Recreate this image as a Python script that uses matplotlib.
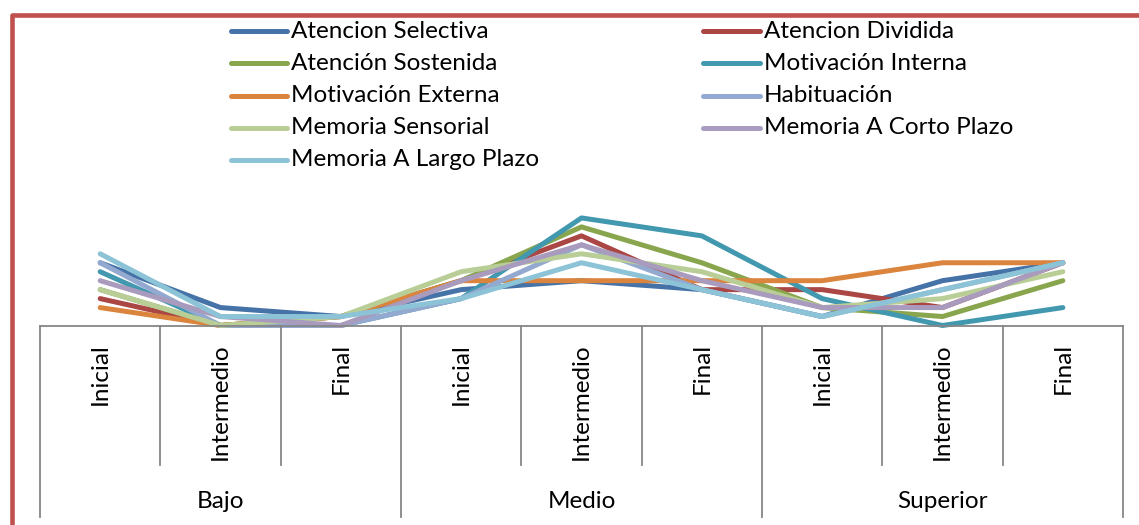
import matplotlib
matplotlib.use("Agg")
import matplotlib.pyplot as plt
from matplotlib.lines import Line2D
from matplotlib.patches import Rectangle

W, H = 1139, 525
plt.rcParams['font.family'] = ['Lato', 'DejaVu Sans']

# ---- data ----
stages = ["Inicial", "Intermedio", "Final"] * 3
groups = ["Bajo", "Medio", "Superior"]
series_names = ["Atencion Selectiva", "Atencion Dividida", "Atención Sostenida",
                "Motivación Interna", "Motivación Externa", "Habituación",
                "Memoria Sensorial", "Memoria A Corto Plazo", "Memoria A Largo Plazo"]
atencion_selectiva = [7, 2, 1, 4, 5, 4, 1, 5, 7]
atencion_dividida = [3, 0, 1, 5, 10, 4, 4, 2, 7]
atencion_sostenida = [4, 0, 1, 5, 11, 7, 2, 1, 5]
motivacion_interna = [6, 0, 0, 3, 12, 10, 3, 0, 2]
motivacion_externa = [2, 0, 1, 5, 5, 5, 5, 7, 7]
habituacion = [7, 0, 0, 3, 9, 4, 1, 4, 7]
memoria_sensorial = [4, 0, 1, 6, 8, 6, 2, 3, 6]
memoria_corto = [5, 1, 0, 5, 9, 5, 2, 2, 7]
memoria_largo = [8, 1, 1, 3, 7, 4, 1, 4, 7]
series_values = [atencion_selectiva, atencion_dividida, atencion_sostenida,
                 motivacion_interna, motivacion_externa, habituacion,
                 memoria_sensorial, memoria_corto, memoria_largo]
colors = ["#4572A7", "#AA4643", "#89A54E", "#4198AF", "#DB843D",
          "#93A9CF", "#B9CD96", "#A99BBD", "#8DC3D6"]

FS = 17.5
LW = 3.6

fig = plt.figure(figsize=(W / 100, H / 100), dpi=100)

def fx(x):
    return x / W

def fy(y):
    return 1 - y / H

# red outer frame
frame = Rectangle((fx(11.5), fy(560)), fx(1200), 1 - fy(560) - (1 - fy(15)),
                  transform=fig.transFigure, fill=False, edgecolor="#C0504D",
                  linewidth=3.3, joinstyle="round")
fig.add_artist(frame)

ax_bottom_px, ax_top_px = 325.5, 200
ax = fig.add_axes([fx(40), fy(ax_bottom_px), fx(1123) - fx(40),
                   (ax_bottom_px - ax_top_px) / H])
x = list(range(len(stages)))
for vals, c, name in zip(series_values, colors, series_names):
    ax.plot(x, vals, color=c, linewidth=LW, solid_capstyle="round",
            solid_joinstyle="round", clip_on=False, label=name)
ax.set_xlim(-0.5, len(stages) - 0.5)
ax.set_ylim(0, 14)
for s in ["top", "left", "right"]:
    ax.spines[s].set_visible(False)
ax.spines["bottom"].set_color("#868686")
ax.spines["bottom"].set_linewidth(1.3)
ax.set_xticks([])
ax.set_yticks([])
ax.patch.set_alpha(0)

trans = ax.get_xaxis_transform()
axh = ax_bottom_px - ax_top_px

def ay(ypx):
    return -(ypx - ax_bottom_px) / axh

# category separators
for i in range(len(stages) + 1):
    xs = i - 0.5
    long = (i % 3 == 0)
    ax.plot([xs, xs], [0, ay(517 if long else 465)], color="#868686",
            linewidth=1.3, transform=trans, clip_on=False)

for i, lab in enumerate(stages):
    ax.text(i, ay(343), lab, rotation=90, ha="center", va="top",
            fontsize=FS, transform=trans)
for g, lab in enumerate(groups):
    ax.text(3 * g + 1, ay(501), lab, ha="center", va="center",
            fontsize=FS, transform=trans)

# legend (row-major, two columns)
col_x = [(231, 287, 291), (703, 760, 764)]
row_y = [31, 63, 96, 128, 160]
for k, (name, c) in enumerate(zip(series_names, colors)):
    r, col = divmod(k, 2)
    x0, x1, xt = col_x[col]
    yy = row_y[r]
    fig.add_artist(Line2D([fx(x0), fx(x1)], [fy(yy), fy(yy)], color=c,
                          linewidth=LW, solid_capstyle="round",
                          transform=fig.transFigure))
    fig.text(fx(xt), fy(yy), name, ha="left", va="center", fontsize=FS)

fig.savefig("out.png", dpi=100)
